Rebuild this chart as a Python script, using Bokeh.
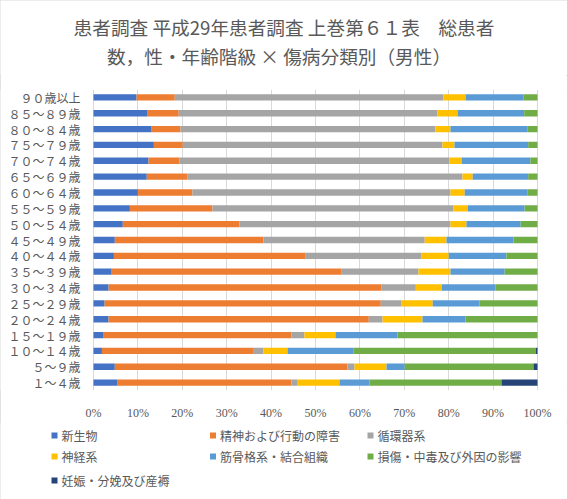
from bokeh.plotting import figure
from bokeh.layouts import column
from bokeh.models import FactorRange, Range1d, FixedTicker, ColumnDataSource
from bokeh.core.properties import value
from bokeh.embed import file_html
from bokeh.resources import INLINE

# age groups, top to bottom
ages = ["９０歳以上", "８５～８９歳", "８０～８４歳", "７５～７９歳", "７０～７４歳",
        "６５～６９歳", "６０～６４歳", "５５～５９歳", "５０～５４歳", "４５～４９歳",
        "４０～４４歳", "３５～３９歳", "３０～３４歳", "２５～２９歳", "２０～２４歳",
        "１５～１９歳", "１０～１４歳", "５～９歳", "１～４歳"]

series_names = ["新生物", "精神および行動の障害", "循環器系", "神経系",
                "筋骨格系・結合組織", "損傷・中毒及び外因の影響", "妊娠・分娩及び産褥"]

shinseibutsu = [9.7, 12.2, 13.1, 13.6, 12.4, 12.0, 10.0, 8.2, 6.6, 4.8, 4.6, 4.1, 3.4, 2.5, 3.4, 2.3, 1.9, 4.8, 5.3]
seishin = [8.6, 7.0, 6.5, 6.5, 7.0, 9.2, 12.3, 18.6, 26.3, 33.5, 43.2, 51.8, 61.5, 62.2, 58.6, 42.3, 34.2, 52.4, 39.3]
junkanki = [60.5, 58.3, 57.4, 58.5, 60.8, 61.9, 58.1, 54.3, 47.5, 36.3, 26.1, 17.3, 7.7, 4.7, 3.1, 2.9, 2.2, 1.6, 1.4]
shinkei = [5.0, 4.5, 3.4, 2.7, 2.7, 2.3, 3.2, 3.2, 3.6, 4.9, 6.1, 7.2, 5.8, 7.0, 9.0, 7.0, 5.4, 7.2, 9.4]
kinkokkaku = [13.1, 15.0, 17.4, 16.6, 15.5, 12.5, 14.2, 12.8, 12.2, 15.1, 13.0, 12.2, 12.1, 10.5, 9.7, 14.0, 14.9, 4.1, 6.8]
sonsho = [3.1, 3.0, 2.2, 2.1, 1.6, 2.1, 2.2, 2.9, 3.8, 5.4, 7.0, 7.4, 9.5, 13.1, 16.2, 31.5, 41.0, 29.0, 29.7]
ninshin = [0, 0, 0, 0, 0, 0, 0, 0, 0, 0, 0, 0, 0, 0, 0, 0, 0.4, 0.9, 8.1]

x_ticks = [0, 10, 20, 30, 40, 50, 60, 70, 80, 90, 100]
x_tick_labels = ["0%", "10%", "20%", "30%", "40%", "50%", "60%", "70%", "80%", "90%", "100%"]

title_lines = ["患者調査 平成29年患者調査 上巻第６１表　総患者",
               "数，性・年齢階級 × 傷病分類別（男性）"]

colors = ["#4472C4", "#ED7D31", "#A5A5A5", "#FFC000", "#5B9BD5", "#70AD47", "#264478"]
TEXT = "#595959"
JP = "Noto Sans CJK JP"

W = 567
H_TITLE = 75
H_MAIN = 347
H_LEG = 77

# pixel geometry of the plotting area
PLOT_L, PLOT_R = 93, 537
PX_PER_PCT = (PLOT_R - PLOT_L) / 100.0


def bare(fig):
    fig.outline_line_color = None
    fig.background_fill_color = "white"
    fig.border_fill_color = "white"
    fig.grid.visible = False


# ---- title strip ----
tfig = figure(width=W, height=H_TITLE, output_backend="svg", toolbar_location=None,
              x_range=Range1d(0, W), y_range=Range1d(H_TITLE, 0),
              x_axis_type=None, y_axis_type=None,
              min_border_left=0, min_border_right=0, min_border_top=0, min_border_bottom=0)
bare(tfig)
tsrc = ColumnDataSource(dict(x=[283.5, 278.5], y=[25.5, 54.5], t=title_lines))
tfig.text(x="x", y="y", text="t", text_font=value(JP), text_font_size=value("18.67px"),
          text_color=TEXT, text_align="center", text_baseline="middle", source=tsrc)

# ---- main chart ----
keys = ["s0", "s1", "s2", "s3", "s4", "s5", "s6"]
source = ColumnDataSource(dict(age=ages, s0=shinseibutsu, s1=seishin, s2=junkanki, s3=shinkei,
                               s4=kinkokkaku, s5=sonsho, s6=ninshin))

p = figure(width=W, height=H_MAIN, output_backend="svg", toolbar_location=None, title=None,
           y_range=FactorRange(factors=list(reversed(ages))),
           x_range=Range1d(-PLOT_L / PX_PER_PCT, (W - PLOT_L) / PX_PER_PCT),
           y_axis_location=None,
           min_border_left=0, min_border_right=0, min_border_top=89 - H_TITLE, min_border_bottom=31)
p.outline_line_color = None
p.background_fill_color = "white"
p.border_fill_color = "white"

p.hbar_stack(keys, y="age", height=0.4, color=colors, line_color=None, source=source)

# category labels (right aligned, 13px left of 0%)
lab_src = ColumnDataSource(dict(x=[-13 / PX_PER_PCT] * len(ages), age=ages))
p.text(x="x", y="age", text="age", text_font=value(JP), text_font_size=value("12px"),
       text_color=TEXT, text_align="right", text_baseline="middle", source=lab_src)

p.xaxis.ticker = FixedTicker(ticks=x_ticks)
p.xaxis.major_label_overrides = {t: l for t, l in zip(x_ticks, x_tick_labels)}
p.xaxis.axis_line_color = None
p.xaxis.major_tick_line_color = None
p.xaxis.minor_tick_line_color = None
p.xaxis.major_label_standoff = 9
p.xaxis.major_label_text_font = "Liberation Serif"
p.xaxis.major_label_text_font_size = "12px"
p.xaxis.major_label_text_color = TEXT

p.xgrid.ticker = FixedTicker(ticks=x_ticks)
p.xgrid.grid_line_color = "#D9D9D9"
p.ygrid.grid_line_color = None

# ---- legend strip ----
leg = figure(width=W, height=H_LEG, output_backend="svg", toolbar_location=None,
             x_range=Range1d(0, W), y_range=Range1d(H_LEG, 0),
             x_axis_type=None, y_axis_type=None,
             min_border_left=0, min_border_right=0, min_border_top=0, min_border_bottom=0)
bare(leg)

col_x = [54, 212.5, 370]
row_y = [13, 34, 58]
sq_x = [col_x[i % 3] for i in range(len(series_names))]
sq_y = [row_y[i // 3] for i in range(len(series_names))]
leg_src = ColumnDataSource(dict(x=sq_x, y=sq_y, tx=[x + 7 for x in sq_x], name=series_names, color=colors))
leg.rect(x="x", y="y", width=6, height=6, width_units="screen", height_units="screen",
         fill_color="color", line_color=None, source=leg_src)
leg.text(x="tx", y="y", text="name", text_font=value(JP), text_font_size=value("12px"),
         text_color=TEXT, text_baseline="middle", text_align="left", source=leg_src)

layout = column(tfig, p, leg, spacing=0,
                styles={"outline": "1px solid #D9D9D9", "outline-offset": "-1px"})
open("out.html", "w").write(file_html(layout, INLINE))
